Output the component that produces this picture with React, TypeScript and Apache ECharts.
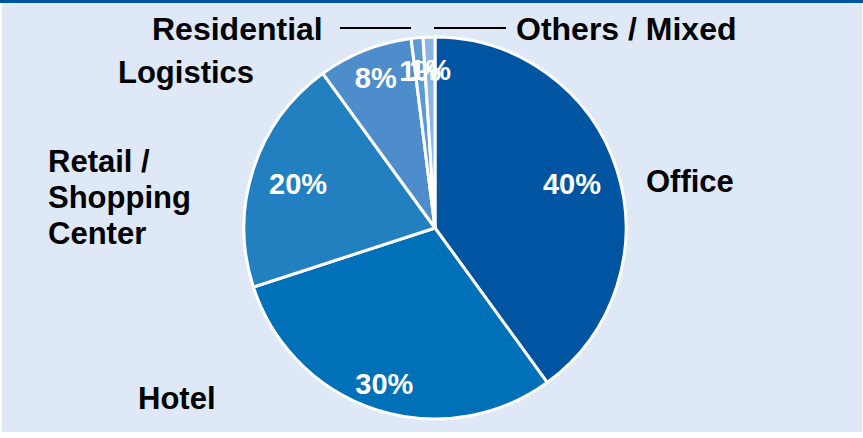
import React, { useEffect, useRef } from "react";
import * as echarts from "echarts";

const categories = ["Office", "Hotel", "Retail /\nShopping\nCenter", "Logistics", "Residential", "Others / Mixed"];
const shares = [40, 30, 20, 8, 1, 1];
const sliceColors = ["#0055A2", "#0070B8", "#2280C0", "#4D8DCB", "#5B9BD5", "#8BB5E0"];

// layout (not data)
const CX = 435;
const CY = 228;
const R = 191;
const pctDist = [144, 164, 144, 161, 158, 158];
const namePos: [number, number][] = [
  [646, 181],
  [138, 398],
  [48, 197],
  [118, 72],
  [152, 29],
  [516, 29],
];
const nameSize = [31, 31, 31, 31, 32, 32];

export default function App() {
  const ref = useRef<HTMLDivElement>(null);
  useEffect(() => {
    if (!ref.current) return;
    const chart = echarts.init(ref.current, null, { renderer: "svg" });
    const total = shares.reduce((a, b) => a + b, 0);
    const cum: number[] = [];
    shares.reduce((acc, v, i) => {
      cum[i] = acc;
      return acc + v;
    }, 0);
    const data = categories.map((name, i) => ({
      name,
      value: shares[i],
      itemStyle: { color: sliceColors[i] },
    }));
    const font = "'Liberation Sans', Arial, Helvetica, sans-serif";
    chart.setOption({
      animation: false,
      graphic: [
        { type: "rect", shape: { x: 2, y: 3, width: 860, height: 429 }, style: { fill: "#DEE8F6" }, z: -10, silent: true },
        { type: "rect", shape: { x: 0, y: 0, width: 863, height: 3 }, style: { fill: "#0055A0" }, z: -10, silent: true },
        { type: "line", shape: { x1: 340, y1: 28, x2: 411, y2: 28 }, style: { stroke: "#000", lineWidth: 2 }, silent: true },
        { type: "line", shape: { x1: 434, y1: 28, x2: 506, y2: 28 }, style: { stroke: "#000", lineWidth: 2 }, silent: true },
      ],
      series: [
        {
          type: "pie",
          center: [CX, CY],
          radius: [0, R],
          startAngle: 90,
          clockwise: true,
          avoidLabelOverlap: false,
          data,
          itemStyle: { borderColor: "#ffffff", borderWidth: 3 },
          label: {
            show: true,
            position: "inside",
            formatter: "{c}%",
            color: "#ffffff",
            fontFamily: font,
            fontWeight: "bold",
            fontSize: 29,
          },
          labelLine: { show: false },
          labelLayout: (params: any) => {
            const i = params.dataIndex;
            const mid = ((cum[i] + shares[i] / 2) / total) * Math.PI * 2;
            return {
              x: CX + pctDist[i] * Math.sin(mid),
              y: CY - pctDist[i] * Math.cos(mid),
              align: "center",
              verticalAlign: "middle",
            };
          },
          emphasis: { disabled: true },
          z: 2,
        },
        {
          type: "pie",
          center: [CX, CY],
          radius: [0, R],
          startAngle: 90,
          clockwise: true,
          avoidLabelOverlap: false,
          silent: true,
          data: categories.map((name, i) => ({ name, value: shares[i], label: { fontSize: nameSize[i] } })),
          itemStyle: { color: "rgba(0,0,0,0)", borderWidth: 0 },
          label: {
            show: true,
            position: "outside",
            formatter: "{b}",
            color: "#000000",
            fontFamily: font,
            fontWeight: "bold",
            fontSize: 31,
            lineHeight: 36,
            align: "left",
          },
          labelLine: { show: false },
          labelLayout: (params: any) => {
            const i = params.dataIndex;
            return { x: namePos[i][0], y: namePos[i][1], align: "left", verticalAlign: "middle" };
          },
          emphasis: { disabled: true },
          z: 3,
        },
      ],
    });
    return () => chart.dispose();
  }, []);
  return (
    <div
      ref={ref}
      style={{ position: "absolute", left: 0, top: 0, width: 863, height: 438, background: "#ffffff" }}
    />
  );
}
